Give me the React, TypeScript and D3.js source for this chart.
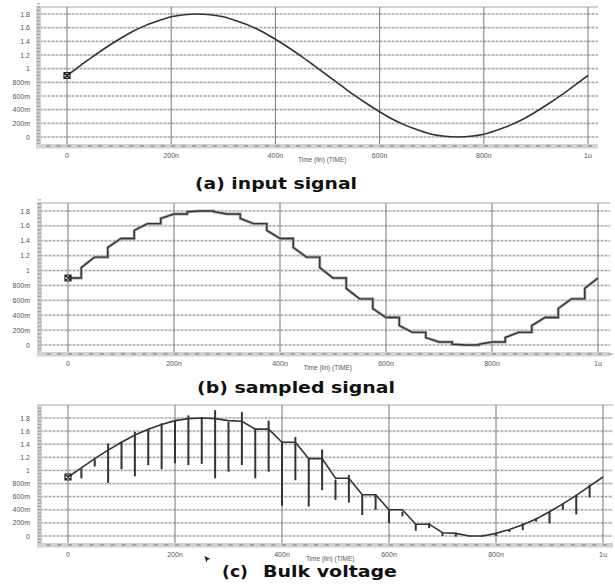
import { useEffect, useRef } from 'react'
import * as d3 from 'd3'

// axis ticks
const timeTicks = [0, 200, 400, 600, 800, 1000]
const timeLabels = ['0', '200n', '400n', '600n', '800n', '1u']
const voltTicks = [0, 0.2, 0.4, 0.6, 0.8, 1, 1.2, 1.4, 1.6, 1.8]
const voltLabels = ['0', '200m', '400m', '600m', '800m', '1', '1.2', '1.4', '1.6', '1.8']

// (a) input signal, read every 25n
const inputTime = d3.range(0, 1001, 25)
const inputVolt = [
  0.9, 1.04, 1.18, 1.31, 1.43, 1.54, 1.63, 1.7, 1.76, 1.79, 1.8, 1.79, 1.76, 1.7, 1.63, 1.54, 1.43, 1.31, 1.18, 1.04,
  0.9, 0.76, 0.62, 0.49, 0.37, 0.26, 0.17, 0.1, 0.04, 0.01, 0.0, 0.01, 0.04, 0.1, 0.17, 0.26, 0.37, 0.49, 0.62, 0.76, 0.9,
]

// (b) sampled signal: hold 0..25n of each 50n period, track 25..50n
const periodStart = d3.range(0, 1000, 50)
const trackStart = [1.04, 1.31, 1.54, 1.7, 1.79, 1.79, 1.7, 1.54, 1.31, 1.04, 0.76, 0.49, 0.26, 0.1, 0.01, 0.01, 0.1, 0.26, 0.49, 0.76]
const trackEnd = [1.18, 1.43, 1.63, 1.76, 1.8, 1.76, 1.63, 1.43, 1.18, 0.9, 0.62, 0.37, 0.17, 0.04, 0.0, 0.04, 0.17, 0.37, 0.62, 0.9]
const sampledStart = 0.9

// (c) bulk voltage
const bulkTime = d3.range(0, 1001, 25)
const bulkVolt = [
  0.9, 1.04, 1.18, 1.31, 1.43, 1.54, 1.63, 1.7, 1.76, 1.79, 1.8, 1.79, 1.76, 1.75, 1.63, 1.63, 1.43, 1.43, 1.18, 1.18,
  0.88, 0.88, 0.63, 0.63, 0.4, 0.4, 0.18, 0.18, 0.05, 0.04, 0.0, 0.0, 0.04, 0.1, 0.17, 0.26, 0.37, 0.49, 0.62, 0.76, 0.9,
]
const spikeTime = d3.range(25, 1000, 25)
const spikeTop = [
  1.03, 1.17, 1.41, 1.44, 1.59, 1.63, 1.72, 1.77, 1.84, 1.81, 1.92, 1.74, 1.89, 1.64, 1.76, 1.44, 1.51, 1.18, 1.32,
  0.86, 0.93, 0.63, 0.63, 0.4, 0.37, 0.18, 0.2, 0.05, 0.05, 0.01, 0.02, 0.05, 0.1, 0.19, 0.27, 0.38, 0.5, 0.63, 0.78,
]
const spikeBottom = [
  0.88, 1.06, 0.81, 1.02, 0.91, 1.08, 1.02, 1.11, 1.08, 1.1, 0.88, 0.98, 1.08, 0.88, 0.98, 0.46, 0.85, 0.45, 0.7,
  0.55, 0.51, 0.32, 0.4, 0.2, 0.3, 0.08, 0.12, 0.0, -0.01, -0.01, -0.01, 0.0, 0.06, 0.09, 0.22, 0.19, 0.4, 0.33, 0.59,
]

const panels = [
  { x0: 67, x1: 588, yZero: 137, yTop: 14, top: 7, bottom: 146, left: 36, right: 598,
    titles: [{ text: '(a) input signal', x: 195, w: 162 }], titleY: 189 },
  { x0: 68, x1: 598, yZero: 345, yTop: 211, top: 203, bottom: 354, left: 37, right: 610,
    titles: [{ text: '(b) sampled signal', x: 197, w: 198 }], titleY: 393 },
  { x0: 68, x1: 603, yZero: 536, yTop: 418, top: 405, bottom: 545, left: 37, right: 613,
    titles: [{ text: '(c)', x: 222, w: 26 }, { text: 'Bulk voltage', x: 263, w: 134 }], titleY: 577 },
]

export default function App() {
  const ref = useRef(null)

  useEffect(() => {
    const svg = d3.select(ref.current)
    svg.selectAll('*').remove()

    panels.forEach((p, i) => {
      const x = d3.scaleLinear().domain([0, 1000]).range([p.x0, p.x1])
      const y = d3.scaleLinear().domain([0, 1.8]).range([p.yZero, p.yTop])
      const g = svg.append('g')

      // frame top
      g.append('line').attr('x1', p.left).attr('x2', p.right).attr('y1', p.top).attr('y2', p.top)
        .attr('stroke', '#c4c4c4').attr('stroke-width', 1.5)

      // horizontal grid
      voltTicks.forEach(v => {
        g.append('line').attr('x1', p.left).attr('x2', p.right).attr('y1', y(v)).attr('y2', y(v))
          .attr('stroke', '#e0e0e0').attr('stroke-width', 2.2)
        g.append('line').attr('x1', p.left).attr('x2', p.right).attr('y1', y(v)).attr('y2', y(v))
          .attr('stroke', '#999').attr('stroke-width', 1).attr('stroke-dasharray', '2,2')
      })

      // vertical grid
      timeTicks.forEach(t => {
        g.append('line').attr('x1', x(t)).attr('x2', x(t)).attr('y1', p.top).attr('y2', p.bottom)
          .attr('stroke', '#777').attr('stroke-width', 1)
      })

      // left band
      g.append('rect').attr('x', p.left).attr('y', p.top).attr('width', 5).attr('height', p.bottom - p.top)
        .attr('fill', '#d0d0d0')
      d3.range(-0.1, 1.96, 0.05).forEach(v => {
        g.append('line').attr('x1', p.left + 1).attr('x2', p.left + 4).attr('y1', y(v)).attr('y2', y(v))
          .attr('stroke', '#888').attr('stroke-width', 0.8)
      })

      // bottom band
      g.append('rect').attr('x', p.left).attr('y', p.bottom - 2).attr('width', p.right - p.left).attr('height', 4.5)
        .attr('fill', '#d2d2d2')
      d3.range(-120, 1030, 20).forEach(t => {
        if (x(t) < p.left || x(t) > p.right) return
        g.append('line').attr('x1', x(t)).attr('x2', x(t) + 4).attr('y1', p.bottom).attr('y2', p.bottom)
          .attr('stroke', '#777').attr('stroke-width', 1)
      })

      // tick labels
      g.selectAll('text.vl').data(voltTicks).enter().append('text')
        .attr('x', 30).attr('y', d => y(d) + 2.5).attr('text-anchor', 'end')
        .attr('font-family', 'Liberation Sans, sans-serif').attr('font-size', 7).attr('fill', '#555')
        .text((d, k) => voltLabels[k])
      g.selectAll('text.tl').data(timeTicks).enter().append('text')
        .attr('x', d => x(d)).attr('y', p.bottom + 12).attr('text-anchor', 'middle')
        .attr('font-family', 'Liberation Sans, sans-serif').attr('font-size', 7).attr('fill', '#555')
        .text((d, k) => timeLabels[k])
      g.append('text').attr('x', x(490)).attr('y', p.bottom + 16).attr('text-anchor', 'middle')
        .attr('font-family', 'Liberation Sans, sans-serif').attr('font-size', 6.5).attr('fill', '#555')
        .text('Time (lin) (TIME)')

      // title
      p.titles.forEach(tt => {
        g.append('text').attr('x', tt.x).attr('y', p.titleY)
          .attr('font-family', 'DejaVu Sans, sans-serif').attr('font-weight', 'bold').attr('font-size', 16.5)
          .attr('textLength', tt.w).attr('lengthAdjust', 'spacingAndGlyphs')
          .attr('fill', '#111').text(tt.text)
      })

      const line = d3.line().x(d => x(d[0])).y(d => y(d[1]))

      if (i === 0) {
        const pts = inputTime.map((t, k) => [t, inputVolt[k]])
        g.append('path').attr('d', line.curve(d3.curveCatmullRom)(pts)).attr('fill', 'none')
          .attr('stroke', '#333').attr('stroke-width', 1.6)
      }
      if (i === 1) {
        const pts = [[0, sampledStart]]
        periodStart.forEach((t, k) => {
          const held = k === 0 ? sampledStart : trackEnd[k - 1]
          pts.push([t + 25, held], [t + 25, trackStart[k]], [t + 50, trackEnd[k]])
        })
        g.append('path').attr('d', line(pts)).attr('fill', 'none')
          .attr('stroke', '#aaa').attr('stroke-width', 3)
        g.append('path').attr('d', line(pts)).attr('fill', 'none')
          .attr('stroke', '#333').attr('stroke-width', 1.4)
      }
      if (i === 2) {
        const pts = bulkTime.map((t, k) => [t, bulkVolt[k]])
        g.append('path').attr('d', line(pts)).attr('fill', 'none')
          .attr('stroke', '#333').attr('stroke-width', 1.6)
        g.selectAll('line.spike').data(spikeTime).enter().append('line')
          .attr('x1', d => x(d)).attr('x2', d => x(d))
          .attr('y1', (d, k) => y(spikeTop[k])).attr('y2', (d, k) => y(spikeBottom[k]))
          .attr('stroke', '#333').attr('stroke-width', 2)
        // mouse cursor
        g.append('path').attr('transform', `translate(${x(255)},${p.bottom + 11})`)
          .attr('d', 'M0,0L6,3L3,3.8L2,6.5Z').attr('fill', '#111')
      }

      // start marker
      g.append('path').attr('transform', `translate(${x(0)},${y(0.9)})`)
        .attr('d', 'M-3,-3L3,3M-3,3L3,-3M-3,-3H3V3H-3Z').attr('fill', 'none')
        .attr('stroke', '#222').attr('stroke-width', 1.2)
    })
  }, [])

  return (
    <svg ref={ref} width={615} height={585} viewBox="0 0 615 585"
      style={{ position: 'absolute', left: 0, top: 0, background: '#fff' }} />
  )
}
